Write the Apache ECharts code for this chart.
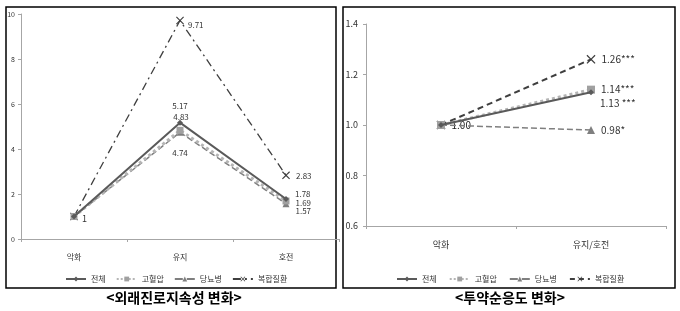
<!DOCTYPE html>
<html><head><meta charset="utf-8">
<script src="https://cdn.jsdelivr.net/npm/echarts@6/dist/echarts.min.js"></script>
<style>html,body{margin:0;padding:0;background:#fff}#c{width:680px;height:311px}</style>
</head><body><div id="c"></div>
<script>
const seriesNames = ['전체','고혈압','당뇨병','복합질환'];
const leftCats = ['악화','유지','호전'];
const leftTotal = [1, 5.17, 1.78];
const leftHyper = [1, 4.83, 1.69];
const leftDiab = [1, 4.74, 1.57];
const leftMulti = [1, 9.71, 2.83];
const rightCats = ['악화','유지/호전'];
const rightTotal = [1.00, 1.13];
const rightHyper = [1.00, 1.14];
const rightDiab = [1.00, 0.98];
const rightMulti = [1.00, 1.26];
const rightLabels = { total: ['', '1.13 ***'], hyper: ['', '1.14***'], diab: ['', '0.98*'], multi: ['1.00', '1.26***'] };
const leftTitle = '<외래진로지속성 변화>';
const rightTitle = '<투약순응도 변화>';

const FONT = '"Noto Sans CJK KR", "Noto Sans", sans-serif';
const XPATH = 'path://M0,1L1,0L5,4L9,0L10,1L6,5L10,9L9,10L5,6L1,10L0,9L4,5Z';
const C = { total:'#5a5a5a', hyper:'#b5b5b5', hyperM:'#a0a0a0', diab:'#7f7f7f', multi:'#3f3f3f' };
const lab = (pos, extra) => Object.assign({show:true, position:pos, fontSize:8, color:'#333', fontFamily:FONT}, extra||{});

function mk(arr, fmt) { return arr.map((v,i)=>({value:v, label: fmt(i)})); }

const chart = echarts.init(document.getElementById('c'), null, {renderer:'canvas'});
chart.setOption({
  animation:false,
  backgroundColor:'#fff',
  grid:[
    {left:21, top:14, width:318, height:225},
    {left:366, top:24, width:300, height:202}
  ],
  xAxis:[
    {type:'category', gridIndex:0, data:leftCats, boundaryGap:true,
     axisLine:{lineStyle:{color:'#a6a6a6', width:1}}, axisTick:{show:true, length:3, lineStyle:{color:'#a6a6a6'}},
     axisLabel:{fontSize:8, color:'#333', margin:14, fontFamily:FONT}},
    {type:'category', gridIndex:1, data:rightCats, boundaryGap:true,
     axisLine:{lineStyle:{color:'#a6a6a6', width:1}}, axisTick:{show:true, length:3, lineStyle:{color:'#a6a6a6'}},
     axisLabel:{fontSize:9, color:'#333', margin:14, fontFamily:FONT}}
  ],
  yAxis:[
    {type:'value', gridIndex:0, min:0, max:10, interval:2, splitLine:{show:false},
     axisLine:{show:true, lineStyle:{color:'#a6a6a6'}}, axisTick:{show:true, length:3, lineStyle:{color:'#a6a6a6'}},
     axisLabel:{fontSize:7, color:'#333', margin:6, fontFamily:FONT}},
    {type:'value', gridIndex:1, min:0.6, max:1.4, interval:0.2, splitLine:{show:false},
     axisLine:{show:true, lineStyle:{color:'#a6a6a6'}}, axisTick:{show:true, length:3, lineStyle:{color:'#a6a6a6'}},
     axisLabel:{fontSize:9, color:'#333', margin:8, fontFamily:FONT, formatter:v=>v.toFixed(1)}}
  ],
  legend:[
    {left:60, top:270, itemWidth:20, itemHeight:6, itemGap:10, textStyle:{fontSize:8, color:'#333', fontFamily:FONT},
     data:seriesNames},
    {left:391, top:270, itemWidth:20, itemHeight:6, itemGap:12, textStyle:{fontSize:8, color:'#333', fontFamily:FONT},
     data:seriesNames.map(n => n==='복합질환' ? {name:n, lineStyle:{type:[5,4]}} : n)}
  ],
  graphic:[
    {type:'rect', shape:{x:6, y:7, width:330, height:281}, style:{fill:'none', stroke:'#000', lineWidth:1.5}, silent:true, z:-1},
    {type:'rect', shape:{x:343, y:7, width:332, height:281}, style:{fill:'none', stroke:'#000', lineWidth:1.5}, silent:true, z:-1},
    {type:'text', x:174, y:298, style:{text:leftTitle, font:'bold 14px '+FONT, fill:'#000', textAlign:'center', textVerticalAlign:'middle'}},
    {type:'text', x:510, y:298, style:{text:rightTitle, font:'bold 14px '+FONT, fill:'#000', textAlign:'center', textVerticalAlign:'middle'}}
  ],
  series:[
    // left chart
    {name:'전체', type:'line', xAxisIndex:0, yAxisIndex:0, z:5,
     data: mk(leftTotal, i=> i===1 ? lab('top',{distance:10}) : i===2 ? lab('right',{distance:6, offset:[0,-5]}) : {show:false}),
     symbol:'diamond', symbolSize:6, itemStyle:{color:C.total}, lineStyle:{color:C.total, width:2}},
    {name:'고혈압', type:'line', xAxisIndex:0, yAxisIndex:0, z:4,
     data: mk(leftHyper, i=> i===1 ? lab('top',{distance:6, offset:[1,0]}) : i===2 ? lab('right',{distance:6, offset:[0,2]}) : {show:false}),
     symbol:'rect', symbolSize:7, itemStyle:{color:C.hyperM}, lineStyle:{color:C.hyper, width:3, type:'dotted'}},
    {name:'당뇨병', type:'line', xAxisIndex:0, yAxisIndex:0, z:3,
     data: mk(leftDiab, i=> i===1 ? lab('bottom',{distance:13}) : i===2 ? lab('right',{distance:6, offset:[0,7]}) : {show:false}),
     symbol:'triangle', symbolSize:7, itemStyle:{color:C.diab}, lineStyle:{color:C.diab, width:1.5, type:'dashed'}},
    {name:'복합질환', type:'line', xAxisIndex:0, yAxisIndex:0, z:2,
     data: mk(leftMulti, i=> i===0 ? lab('right',{distance:4, offset:[0,2], fontSize:9}) : i===1 ? lab('right',{distance:4, offset:[0,4]}) : lab('right',{distance:6, offset:[0,1]})),
     symbol:XPATH, symbolSize:8, itemStyle:{color:C.multi}, lineStyle:{color:C.multi, width:1.3, type:[8,4,2,4]}},
    // right chart
    {name:'전체', type:'line', xAxisIndex:1, yAxisIndex:1, z:5,
     data: mk(rightTotal, i=> rightLabels.total[i] ? lab('right',{distance:6, offset:[0,11], fontSize:10, formatter:rightLabels.total[i]}) : {show:false}),
     symbol:'diamond', symbolSize:6, itemStyle:{color:C.total}, lineStyle:{color:C.total, width:2}},
    {name:'고혈압', type:'line', xAxisIndex:1, yAxisIndex:1, z:4,
     data: mk(rightHyper, i=> rightLabels.hyper[i] ? lab('right',{distance:6, fontSize:10, formatter:rightLabels.hyper[i]}) : {show:false}),
     symbol:'rect', symbolSize:8, itemStyle:{color:C.hyperM}, lineStyle:{color:C.hyper, width:3, type:'dotted'}},
    {name:'당뇨병', type:'line', xAxisIndex:1, yAxisIndex:1, z:3,
     data: mk(rightDiab, i=> rightLabels.diab[i] ? lab('right',{distance:6, fontSize:10, formatter:rightLabels.diab[i]}) : {show:false}),
     symbol:'triangle', symbolSize:8, itemStyle:{color:C.diab}, lineStyle:{color:C.diab, width:1.5, type:'dashed'}},
    {name:'복합질환', type:'line', xAxisIndex:1, yAxisIndex:1, z:2,
     data: mk(rightMulti, i=> lab('right',{distance:6, fontSize:10, color: i===0 ? '#222' : '#333', formatter:rightLabels.multi[i]})),
     symbol:XPATH, symbolSize:9, itemStyle:{color:C.multi}, lineStyle:{color:C.multi, width:2, type:[6,4]}}
  ]
});
</script></body></html>
